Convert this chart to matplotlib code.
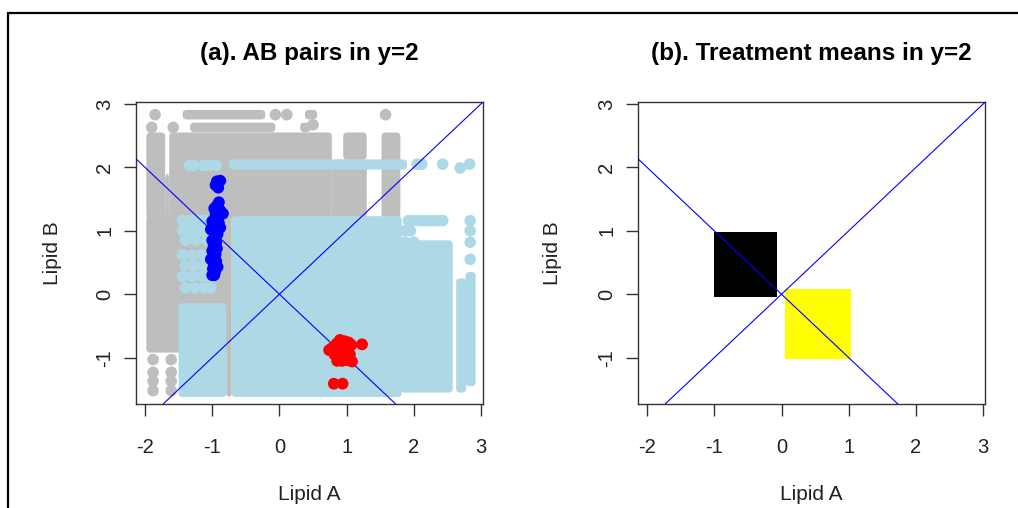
import matplotlib
matplotlib.use("Agg")
import matplotlib.pyplot as plt
from matplotlib.patches import Rectangle, FancyBboxPatch

plt.rcParams['font.family'] = ['Liberation Sans', 'DejaVu Sans']
plt.rcParams['axes.unicode_minus'] = False

# ---------------- data ----------------
x_ticks = [-2, -1, 0, 1, 2, 3]
y_ticks = [-1, 0, 1, 2, 3]
x_lim = (-2.134, 3.03)
y_lim = (-1.73, 3.03)

titles = ["(a). AB pairs in y=2", "(b). Treatment means in y=2"]
x_label = "Lipid A"
y_label = "Lipid B"

# dense point clouds in panel (a), as block extents (x0, x1, y0, y1)
gray_blocks = [
    (-1.98, -1.70, 1.20, 2.55),
    (-1.70, -1.64, 1.20, 1.90),
    (-1.64, 0.78, 1.20, 2.55),
    (0.78, 1.30, 1.20, 2.12),
    (0.95, 1.30, 2.12, 2.55),
    (1.52, 1.80, 1.20, 2.55),
    (-1.98, -0.72, -0.92, 1.25),
    (-0.79, -0.71, -1.62, 1.25),
    (-1.44, -0.21, 2.755, 2.905),
    (-1.33, -0.06, 2.555, 2.705),
    (0.31, 0.46, 2.555, 2.705),
    (0.38, 0.56, 2.755, 2.905),
]
gray_x = [-1.85, -0.06, 0.11, 1.58, -1.90, -1.58, 0.50,
          -1.88, -1.61, -1.88, -1.61, -1.88, -1.61, -1.88, -1.61]
gray_y = [2.83, 2.83, 2.83, 2.83, 2.63, 2.63, 2.67,
          -1.03, -1.03, -1.23, -1.23, -1.37, -1.37, -1.52, -1.52]

lightblue_blocks = [
    (-0.71, 1.82, -1.62, 1.23),
    (-1.50, -0.79, -1.62, -0.14),
    (1.80, 2.58, -1.55, 0.85),
    (-0.75, 1.90, 1.965, 2.125),
    (2.77, 2.92, -1.45, 0.35),
    (2.63, 2.78, -1.55, 0.25),
]
lightblue_x = [-1.34, -1.27, -1.12, -1.05, -0.94,
               2.05, 2.12, 2.43, 2.69, 2.83,
               1.92, 1.99, 2.07, 2.14, 2.21, 2.28, 2.36, 2.43, 2.84,
               1.87, 1.95, 2.84, 1.87, 2.00, 2.84, 2.84,
               -1.44, -1.37, -1.30, -1.23, -1.16, -1.09, -1.02,
               -1.44, -1.30, -1.16, -1.02,
               -1.40, -1.25, -1.08,
               -1.44, -1.30, -1.16, -1.05,
               -1.40, -1.26, -1.12,
               -1.44, -1.30, -1.16, -1.05,
               -1.40, -1.26, -1.12, -1.02]
lightblue_y = [2.03, 2.03, 2.03, 2.03, 2.03,
               2.05, 2.05, 2.05, 1.99, 2.05,
               1.16, 1.16, 1.16, 1.16, 1.16, 1.16, 1.16, 1.16, 1.16,
               1.00, 1.00, 1.00, 0.82, 0.82, 0.82, 0.55,
               1.16, 1.16, 1.16, 1.16, 1.16, 1.16, 1.16,
               1.00, 1.00, 1.00, 1.00,
               0.85, 0.85, 0.85,
               0.62, 0.62, 0.62, 0.62,
               0.45, 0.45, 0.45,
               0.28, 0.28, 0.28, 0.28,
               0.10, 0.10, 0.10, 0.10]

blue_x = [-0.88, -0.93, -0.91, -0.95, -0.90, -0.93, -0.97, -0.88, -0.84, -0.95,
          -0.92, -1.00, -0.90, -0.95, -0.88, -1.02, -0.97, -0.92, -0.96, -1.00,
          -0.94, -0.98, -0.93, -1.00, -0.95, -0.98, -1.02, -0.94, -0.97, -0.92,
          -0.99, -0.96, -1.00, -0.97]
blue_y = [1.79, 1.78, 1.68, 1.72, 1.45, 1.40, 1.35, 1.32, 1.27, 1.25,
          1.20, 1.15, 1.12, 1.08, 1.05, 1.02, 0.98, 0.95, 0.90, 0.85,
          0.82, 0.76, 0.72, 0.68, 0.63, 0.58, 0.55, 0.52, 0.48, 0.43,
          0.40, 0.34, 0.30, 0.30]

red_x = [0.90, 0.97, 1.03, 0.85, 0.78, 0.92, 1.00, 1.07, 0.88, 0.95, 1.02, 0.82,
         0.90, 0.98, 1.05, 0.86, 0.93, 1.00, 1.08, 0.95, 1.23, 0.81, 0.94, 0.74]
red_y = [-0.72, -0.74, -0.76, -0.78, -0.85, -0.82, -0.83, -0.80, -0.90, -0.92, -0.90, -0.95,
         -0.98, -0.97, -0.95, -1.05, -1.05, -1.04, -1.06, -0.88, -0.79, -1.41, -1.41, -0.88]

# panel (b): treatment-mean clouds as block extents
black_block = (-1.00, -0.07, -0.05, 0.98)
yellow_block = (0.05, 1.035, -1.02, 0.08)

GRAY = "#BEBEBE"
LIGHTBLUE = "#ADD8E6"

# ---------------- figure ----------------
W, H = 1018, 508
fig = plt.figure(figsize=(W / 100, H / 100), dpi=100)

# outer frame (cropped at right/bottom)
fig.patches.append(Rectangle((7.5 / W, -0.1), 1.2, 1 - 12.7 / H + 0.1,
                             transform=fig.transFigure, fill=False,
                             edgecolor="black", linewidth=1.6))

def px_axes(left, top, right, bottom):
    return fig.add_axes([left / W, 1 - bottom / H, (right - left) / W, (bottom - top) / H])

axA = px_axes(136, 102, 483, 404)
axB = px_axes(638, 102, 985.3, 404)

def add_blocks(ax, blocks, color, z, rounded=True):
    for (x0, x1, y0, y1) in blocks:
        if rounded:
            p = FancyBboxPatch((x0, y0), x1 - x0, y1 - y0,
                               boxstyle="round,pad=0,rounding_size=0.06",
                               mutation_aspect=1.05,
                               facecolor=color, edgecolor="none", zorder=z)
        else:
            p = Rectangle((x0, y0), x1 - x0, y1 - y0, facecolor=color,
                          edgecolor="none", zorder=z)
        ax.add_patch(p)

def style(ax, title, ylab_x):
    ax.set_xlim(*x_lim)
    ax.set_ylim(*y_lim)
    ax.set_xticks(x_ticks)
    ax.set_yticks(y_ticks)
    ax.set_xticklabels([str(v) for v in x_ticks])
    ax.set_yticklabels([str(v) for v in y_ticks], rotation=90, va="center")
    ax.tick_params(axis="both", length=8.6, width=1, color="#333333",
                   labelsize=14.5, labelcolor="#222222")
    ax.tick_params(axis="x", pad=16)
    ax.tick_params(axis="y", pad=7)
    for s in ax.spines.values():
        s.set_color("#333333")
        s.set_linewidth(1)
    ax.text(0.5, 1.162, title, transform=ax.transAxes, ha="center", va="center",
            fontsize=17.5, fontweight="bold")
    ax.text(0.5, -0.301, x_label, transform=ax.transAxes, ha="center", va="center",
            fontsize=15, color="#222222")
    ax.text(ylab_x, 0.5, y_label, transform=ax.transAxes, ha="center", va="center",
            fontsize=15, rotation=90, color="#222222")

# panel (a)
add_blocks(axA, gray_blocks, GRAY, 1)
axA.scatter(gray_x, gray_y, s=70, color=GRAY, edgecolors="none", zorder=1)
add_blocks(axA, lightblue_blocks, LIGHTBLUE, 2)
axA.scatter(lightblue_x, lightblue_y, s=70, color=LIGHTBLUE, edgecolors="none", zorder=2)
axA.axline((0, 0), slope=1, color="blue", linewidth=0.8, zorder=3)
axA.axline((0, 0), slope=-1, color="blue", linewidth=0.8, zorder=3)
axA.scatter(blue_x, blue_y, s=72, color="blue", edgecolors="none", zorder=4)
axA.scatter(red_x, red_y, s=72, color="red", edgecolors="none", zorder=4)
style(axA, titles[0], -0.242)

# panel (b)
add_blocks(axB, [black_block], "black", 1, rounded=False)
add_blocks(axB, [yellow_block], "yellow", 1, rounded=False)
axB.axline((0, 0), slope=1, color="blue", linewidth=0.8, zorder=3)
axB.axline((0, 0), slope=-1, color="blue", linewidth=0.8, zorder=3)
style(axB, titles[1], -0.245)

fig.savefig("out.png", dpi=100)
